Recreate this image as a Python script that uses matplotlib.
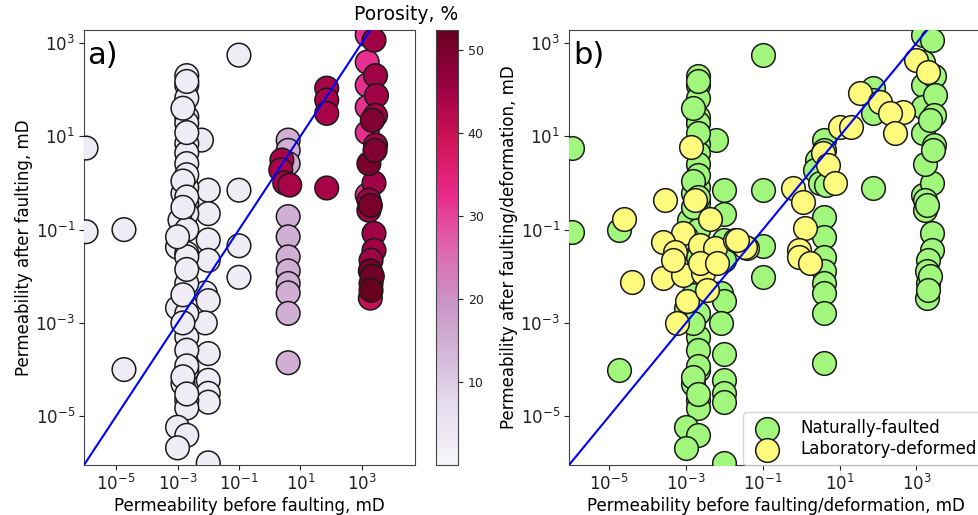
import matplotlib
matplotlib.use("Agg")
import matplotlib.pyplot as plt
from matplotlib.colors import Normalize
from matplotlib.ticker import FixedLocator, NullLocator, LogFormatterSciNotation

# Naturally-faulted samples: permeability before / after faulting (mD) and porosity (%)
nat_before = [
    1.05e-6, 1.05e-6, 1.8e-5, 1.8e-5,
    0.1, 0.1, 0.1, 0.1,
    0.006, 0.01, 0.01, 0.01, 0.01, 0.008, 0.01, 0.008, 0.01, 0.01, 0.01, 0.01, 0.01,
    0.002, 0.002, 0.002, 0.002, 0.002, 0.002, 0.002, 0.002, 0.002, 0.0015,
    0.002, 0.002, 0.0012, 0.002, 0.001, 0.002, 0.002, 0.002, 0.001, 0.002,
    0.002, 0.002, 0.002, 0.0015, 0.002, 0.002, 0.001, 0.002, 0.001,
    0.002, 0.0015, 0.002, 0.002, 0.0015, 0.002, 0.0015, 0.001, 0.002, 0.0015,
    0.0015, 0.002, 0.0015, 0.002,
    4.0, 4.0, 4.0, 4.0, 4.0, 4.0, 4.0, 4.0, 4.0, 4.0, 4.0,
    2.5, 2.3, 3.1, 4.5,
    72, 72, 72, 72,
    1500, 1500, 1500, 1500, 1500, 1500,
    2500, 2800, 3000, 2800, 2800, 2500, 1700, 1700, 2500, 2500, 2000, 2000, 1900,
    1700, 1900, 2200, 2700, 1900, 2200, 2000,
]
nat_after = [
    5.6, 0.09, 0.1, 1e-4,
    550, 0.7, 0.045, 0.0095,
    8.3, 0.7, 0.22, 0.06, 0.022, 0.0044, 0.003, 0.001, 2.2e-4, 5.9e-5, 3.1e-5, 2e-5, 1e-6,
    200, 125, 66, 26, 19, 7, 4.4, 2.6, 0.8, 0.6,
    0.37, 0.22, 0.16, 0.1, 0.042, 0.031, 0.026, 0.007, 0.0021, 0.0016,
    5e-4, 2.6e-4, 9.6e-5, 5e-5, 2.2e-5, 1.5e-5, 5.8e-6, 3.9e-6, 2.1e-6,
    150, 40, 12, 1.5, 1.1, 0.5, 0.3, 0.07, 0.014, 0.004,
    0.001, 1.2e-4, 7e-5, 3e-5,
    8.3, 5.0, 2.6, 0.19, 0.07, 0.026, 0.013, 0.007, 0.0044, 0.0016, 1.4e-4,
    3.1, 1.9, 1.0, 0.9,
    108, 60, 31, 0.78,
    1500, 390, 125, 42, 12, 0.55,
    1150, 200, 75, 28, 6.5, 1.0, 0.43, 0.26, 0.083, 0.036, 0.022, 0.007, 0.0034,
    2.6, 0.013, 22, 5.0, 0.33, 0.01, 0.005,
]
nat_porosity = (
    [3, 3, 3, 3]
    + [3, 3, 3, 3]
    + [4] + [3] * 12
    + [3] * 9 + [4]
    + [3] * 10
    + [3] * 9
    + [3] * 10
    + [3] * 4
    + [15] * 11
    + [44, 44, 44, 44]
    + [44, 44, 44, 44]
    + [32] * 6
    + [45] * 12 + [40]
    + [50, 50, 49, 49, 50, 51, 52.4]
)

# Laboratory-deformed samples
lab_before = [
    1.35e-3, 2.8e-4, 1.7e-3, 4.2e-3, 2.5e-5, 8.3e-4, 2.5e-4, 5.1e-4, 2.3e-3, 5.6e-3,
    0.019, 0.038, 4e-5, 2.5e-4, 8.3e-4, 2.8e-3, 4.6e-4, 2.3e-3, 6.5e-3, 1.07e-3,
    5.9e-4, 3.5e-3, 1000, 1950, 33, 110, 436, 200, 270, 10,
    20, 3.6, 4.9, 7.4, 0.6, 1.1, 1.23, 0.9, 0.034, 0.021, 0.9, 1.66,
]
lab_after = [
    5.9, 0.43, 0.43, 0.17, 0.17, 0.083, 0.054, 0.033, 0.047, 0.04,
    0.059, 0.04, 0.0074, 0.009, 0.0105, 0.0116, 0.022, 0.019, 0.019, 0.003,
    0.001, 0.005, 430, 240, 85, 54, 33, 31, 11.7, 16,
    16, 4.4, 2.4, 1.0, 0.78, 0.39, 0.11, 0.036, 0.042, 0.059, 0.026, 0.019,
]

decade_ticks = [1e-5, 1e-3, 1e-1, 1e1, 1e3]
x_limits = (9e-7, 5.4e4)
y_limits = (9e-7, 1.9e3)
porosity_range = (0.0, 52.4)

FS = 12
W, H = 979, 515
fig = plt.figure(figsize=(W / 100, H / 100), dpi=100)

def px_axes(x0, x1, ytop, ybot):
    return fig.add_axes([x0 / W, 1 - ybot / H, (x1 - x0) / W, (ybot - ytop) / H])

ax_a = px_axes(84, 415, 30, 465)
cax = px_axes(436, 458, 30, 465)
ax_b = px_axes(569, 983, 30, 465)

marker_size = 290
edge_kw = dict(edgecolors="#1a1a1a", linewidths=1.1)

def style_axes(ax):
    ax.set_xscale("log")
    ax.set_yscale("log")
    ax.set_xlim(*x_limits)
    ax.set_ylim(*y_limits)
    for axis in (ax.xaxis, ax.yaxis):
        axis.set_major_locator(FixedLocator(decade_ticks))
        axis.set_major_formatter(LogFormatterSciNotation())
        axis.set_minor_locator(NullLocator())
    ax.tick_params(labelsize=FS, colors="#222222", pad=3)
    for s in ax.spines.values():
        s.set_color("#444444")
    # 1:1 reference line
    ax.plot([1e-8, 1e6], [1e-8, 1e6], color="blue", lw=1.5, zorder=5)

# Panel a: coloured by porosity
norm = Normalize(*porosity_range)
sc = ax_a.scatter(nat_before, nat_after, c=nat_porosity, cmap="PuRd", norm=norm,
                  s=marker_size, zorder=3, **edge_kw)
style_axes(ax_a)
ax_a.set_xlabel("Permeability before faulting, mD", fontsize=FS, labelpad=2)
ax_a.set_ylabel("Permeability after faulting, mD", fontsize=FS, labelpad=2)
ax_a.text(0.01, 0.975, "a)", transform=ax_a.transAxes, fontsize=22, va="top", ha="left")

cb = fig.colorbar(sc, cax=cax)
cb.set_ticks([10, 20, 30, 40, 50])
cb.ax.tick_params(labelsize=9, colors="#222222")
cb.outline.set_edgecolor("#444444")
fig.text(458 / W, 1 - 20 / H, "Porosity, %", fontsize=13.5, ha="right", va="baseline")

# Panel b: natural vs laboratory
ax_b.scatter(nat_before, nat_after, color="#a0f77c", s=marker_size, zorder=3,
             label="Naturally-faulted", **edge_kw)
ax_b.scatter(lab_before, lab_after, color="#fdfa7e", s=marker_size, zorder=4,
             label="Laboratory-deformed", **edge_kw)
style_axes(ax_b)
ax_b.set_xlabel("Permeability before faulting/deformation, mD", fontsize=FS, labelpad=2)
ax_b.set_ylabel("Permeability after faulting/deformation, mD", fontsize=FS, labelpad=2)
ax_b.text(0.01, 0.975, "b)", transform=ax_b.transAxes, fontsize=22, va="top", ha="left")
leg = ax_b.legend(loc="lower right", fontsize=FS, borderaxespad=0.0,
                  labelspacing=0.2, handletextpad=1.0, framealpha=0.8,
                  fancybox=True)

fig.savefig("out.png", dpi=100)
